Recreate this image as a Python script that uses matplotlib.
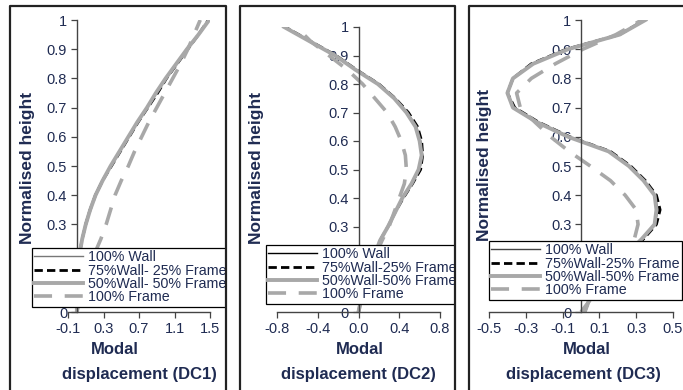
# Modal displacement profiles, DC1-DC3
import matplotlib
matplotlib.use("Agg")
import matplotlib.pyplot as plt
from matplotlib.lines import Line2D
from matplotlib.transforms import Bbox, TransformedBbox

plt.rcParams['font.family'] = ['Liberation Sans', 'DejaVu Sans']

# normalised height (shared by all series)
height = [0.0, 0.05, 0.1, 0.15, 0.2, 0.25, 0.3, 0.35, 0.4, 0.45, 0.5,
          0.55, 0.6, 0.65, 0.7, 0.75, 0.8, 0.85, 0.9, 0.95, 1.0]

# DC1
dc1_wall = [0.0, 0.0, 0.0, 0.01, 0.03, 0.06, 0.09, 0.14, 0.20, 0.28, 0.38,
            0.48, 0.58, 0.68, 0.79, 0.90, 1.01, 1.13, 1.25, 1.37, 1.48]
dc1_w75 = [0.0, 0.0, 0.0, 0.01, 0.03, 0.06, 0.10, 0.15, 0.21, 0.29, 0.39,
           0.49, 0.59, 0.69, 0.80, 0.91, 1.01, 1.13, 1.25, 1.37, 1.48]
dc1_w50 = [0.0, 0.0, 0.0, 0.01, 0.03, 0.06, 0.10, 0.15, 0.21, 0.29, 0.38,
           0.48, 0.58, 0.68, 0.79, 0.89, 1.00, 1.12, 1.24, 1.37, 1.49]
dc1_frame = [0.0, 0.04, 0.09, 0.14, 0.20, 0.27, 0.33, 0.38, 0.43, 0.50, 0.58,
             0.65, 0.73, 0.81, 0.90, 0.99, 1.08, 1.17, 1.25, 1.32, 1.39]

# DC2
dc2_wall = [0.0, 0.03, 0.07, 0.11, 0.16, 0.21, 0.29, 0.36, 0.43, 0.53, 0.60,
            0.63, 0.61, 0.57, 0.48, 0.36, 0.20, -0.02, -0.22, -0.47, -0.72]
dc2_w75 = [0.0, 0.03, 0.07, 0.11, 0.16, 0.21, 0.29, 0.36, 0.44, 0.53, 0.61,
           0.63, 0.62, 0.58, 0.49, 0.36, 0.20, -0.02, -0.22, -0.47, -0.72]
dc2_w50 = [0.0, 0.03, 0.07, 0.11, 0.16, 0.21, 0.29, 0.36, 0.43, 0.52, 0.59,
           0.62, 0.60, 0.56, 0.47, 0.35, 0.19, -0.03, -0.23, -0.48, -0.73]
dc2_frame = [0.0, 0.03, 0.07, 0.12, 0.17, 0.23, 0.30, 0.35, 0.40, 0.45, 0.47,
             0.46, 0.42, 0.36, 0.28, 0.16, 0.04, -0.11, -0.29, -0.47, -0.61]

# DC3
dc3_wall = [0.02, 0.05, 0.11, 0.18, 0.25, 0.33, 0.40, 0.42, 0.40, 0.34, 0.26,
            0.16, -0.06, -0.23, -0.36, -0.40, -0.37, -0.27, -0.08, 0.21, 0.345]
dc3_w75 = [0.02, 0.05, 0.11, 0.18, 0.25, 0.34, 0.41, 0.43, 0.41, 0.35, 0.27,
           0.16, -0.06, -0.23, -0.36, -0.40, -0.37, -0.27, -0.08, 0.21, 0.345]
dc3_w50 = [0.02, 0.05, 0.11, 0.18, 0.25, 0.33, 0.40, 0.41, 0.40, 0.34, 0.26,
           0.15, -0.07, -0.24, -0.37, -0.40, -0.37, -0.26, -0.07, 0.21, 0.35]
dc3_frame = [0.0, 0.06, 0.12, 0.18, 0.24, 0.29, 0.31, 0.30, 0.24, 0.16, 0.05,
             -0.065, -0.165, -0.25, -0.33, -0.35, -0.27, -0.14, 0.01, 0.19, 0.33]

labels_dc1 = ['100% Wall', '75%Wall- 25% Frame', '50%Wall- 50% Frame', '100% Frame']
labels_dc23 = ['100% Wall', '75%Wall-25% Frame', '50%Wall-50% Frame', '100% Frame']

y_ticks = [0, 0.1, 0.2, 0.3, 0.4, 0.5, 0.6, 0.7, 0.8, 0.9, 1]
y_ticklabels = ['0', '0.1', '0.2', '0.3', '0.4', '0.5', '0.6', '0.7', '0.8', '0.9', '1']

W, H = 683, 390
fig = plt.figure(figsize=(W / 100, H / 100), dpi=100)


def fx(px):
    return px / W


def fy(py):
    return 1 - py / H


navy = '#1f2b52'

panels = [
    dict(box=(68, 210, 20, 312), xlim=(-0.1, 1.5),
         xticks=[-0.1, 0.3, 0.7, 1.1, 1.5], xtl=['-0.1', '0.3', '0.7', '1.1', '1.5'],
         data=(dc1_wall, dc1_w75, dc1_w50, dc1_frame), labels=labels_dc1,
         wall_c='#777777', border=(10, 226), leg=(32, 248), ylab=(28, 168),
         modal_x=115, disp_x=139, name='DC1'),
    dict(box=(277, 440, 27, 312), xlim=(-0.8, 0.8),
         xticks=[-0.8, -0.4, 0.0, 0.4, 0.8], xtl=['-0.8', '-0.4', '0.0', '0.4', '0.8'],
         data=(dc2_wall, dc2_w75, dc2_w50, dc2_frame), labels=labels_dc23,
         wall_c='black', border=(240, 455), leg=(266, 245), ylab=(256, 168),
         modal_x=360, disp_x=358, name='DC2'),
    dict(box=(489, 673, 20, 312), xlim=(-0.5, 0.5),
         xticks=[-0.5, -0.3, -0.1, 0.1, 0.3, 0.5], xtl=['-0.5', '-0.3', '-0.1', '0.1', '0.3', '0.5'],
         data=(dc3_wall, dc3_w75, dc3_w50, dc3_frame), labels=labels_dc23,
         wall_c='#444444', border=(469, 700), leg=(489, 241), ylab=(484, 165),
         modal_x=587, disp_x=583, name='DC3'),
]

for p in panels:
    l, r, t, b = p['box']
    ax = fig.add_axes([fx(l), fy(b), fx(r) - fx(l), fy(t) - fy(b)])
    wall, w75, w50, frame = p['data']
    ax.plot(wall, height, color=p['wall_c'], lw=1.0, label=p['labels'][0])
    ax.plot(w75, height, color='black', lw=2.0, dashes=(3, 1.5), label=p['labels'][1])
    ax.plot(w50, height, color='#a8a8a8', lw=2.8, label=p['labels'][2])
    ax.plot(frame, height, color='#a8a8a8', lw=2.6, dashes=(5, 3.5), label=p['labels'][3])

    ax.set_xlim(*p['xlim'])
    ax.set_ylim(0, 1)
    ax.set_xticks(p['xticks'])
    ax.set_xticklabels(p['xtl'])
    ax.set_yticks(y_ticks)
    ax.set_yticklabels(y_ticklabels)
    ax.spines['top'].set_visible(False)
    ax.spines['right'].set_visible(False)
    ax.spines['left'].set_position(('data', 0))
    for s in ('left', 'bottom'):
        ax.spines[s].set_color('#444444')
        ax.spines[s].set_linewidth(1.0)
    ax.tick_params(direction='out', length=4, width=0.9, color='#444444',
                   labelsize=10.5, labelcolor=navy, pad=3)

    leg = ax.legend(loc='upper left', bbox_to_anchor=(fx(p['leg'][0]), fy(p['leg'][1])),
                    bbox_transform=fig.transFigure, borderaxespad=0, fontsize=10.3,
                    handlelength=3.4, handletextpad=0.35, labelspacing=-0.04,
                    borderpad=0.15, fancybox=False, framealpha=1, edgecolor='black')
    leg.get_frame().set_linewidth(0.9)
    for t_ in leg.get_texts():
        t_.set_color(navy)
    # cut the legend at the panel border like in the source figure
    clip = TransformedBbox(Bbox.from_extents(fx(p['border'][0]), 0, fx(p['border'][1]), 1),
                           fig.transFigure)
    for a in leg.findobj():
        a.set_clip_box(clip)
        a.set_clip_on(True)

    fig.text(fx(p['ylab'][0]), fy(p['ylab'][1]), 'Normalised height', rotation=90,
             ha='center', va='center', fontsize=12.5, fontweight='bold', color=navy)
    fig.text(fx(p['modal_x']), fy(350), 'Modal', ha='center', va='center',
             fontsize=12, fontweight='bold', color=navy)
    fig.text(fx(p['disp_x']), fy(375), 'displacement (%s)' % p['name'], ha='center',
             va='center', fontsize=12, fontweight='bold', color=navy)

    # panel frame
    bl, br = p['border']
    fig.add_artist(Line2D([fx(bl), fx(bl), fx(br), fx(br)], [0, fy(6), fy(6), 0],
                          transform=fig.transFigure, color='#222222', lw=1.6))

fig.savefig('out.png', dpi=100)
